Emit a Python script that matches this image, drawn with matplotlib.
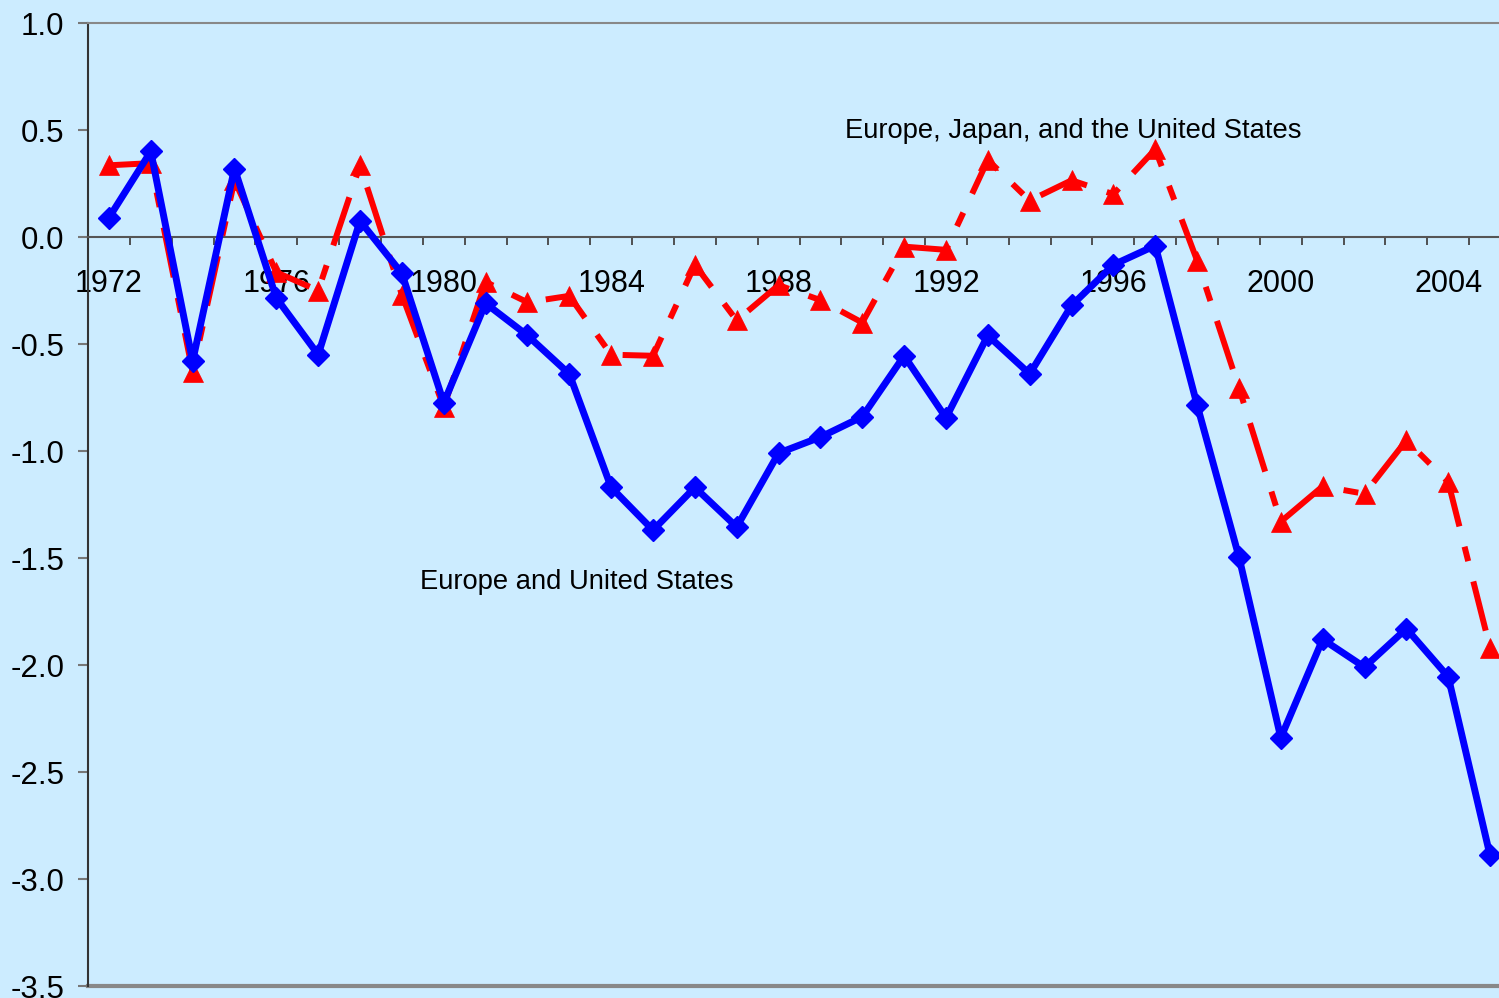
import matplotlib.pyplot as plt
import numpy as np
from matplotlib.ticker import FixedLocator, FixedFormatter

years = list(range(1972, 2006))

# Europe and United States
eu_us = [0.09, 0.40, -0.58, 0.32, -0.285, -0.55, 0.075, -0.17, -0.775, -0.31,
         -0.46, -0.64, -1.17, -1.37, -1.17, -1.355, -1.01, -0.935, -0.84, -0.555,
         -0.845, -0.46, -0.64, -0.32, -0.13, -0.04, -0.785, -1.495, -2.34, -1.88,
         -2.01, -1.83, -2.055, -2.89]

# Europe, Japan, and the United States
eu_jp_us = [0.335, 0.345, -0.63, 0.265, -0.165, -0.25, 0.335, -0.27, -0.795, -0.21,
            -0.305, -0.275, -0.55, -0.555, -0.13, -0.39, -0.225, -0.295, -0.40, -0.045,
            -0.06, 0.36, 0.17, 0.265, 0.20, 0.41, -0.11, -0.705, -1.33, -1.165,
            -1.20, -0.95, -1.145, -1.92]

label_years = [1972, 1976, 1980, 1984, 1988, 1992, 1996, 2000, 2004]
y_ticks = [1.0, 0.5, 0.0, -0.5, -1.0, -1.5, -2.0, -2.5, -3.0, -3.5]

bg = '#CCECFF'
plt.rcParams['font.family'] = ['Liberation Sans', 'DejaVu Sans']

fig = plt.figure(figsize=(14.99, 9.98), dpi=100, facecolor=bg)
ax = fig.add_axes([88 / 1499, 1 - 986 / 998, (1511 - 88) / 1499, (986 - 23) / 998])
ax.set_facecolor(bg)

ax.plot(years, eu_jp_us, color='#FF0000', lw=4.3, linestyle=(0, (8.5, 3.5, 2.5, 3.5)),
        marker='^', ms=14, mew=0.5, zorder=3)
ax.plot(years, eu_us, color='#0000FF', lw=5, marker='D', ms=11.5, mew=1, zorder=4)

ax.set_xlim(1971.5, 2005.5)
ax.set_ylim(-3.5, 1.0)

# x axis sits at zero
ax.spines['bottom'].set_position(('data', 0))
ax.spines['bottom'].set_color('#555555')
ax.spines['bottom'].set_linewidth(1.5)
ax.spines['left'].set_color('#333333')
ax.spines['left'].set_linewidth(1.5)
ax.spines['top'].set_color('#888888')
ax.spines['top'].set_linewidth(1.5)
ax.spines['right'].set_visible(False)
ax.axhline(-3.5, color='#888888', lw=3, clip_on=False, zorder=1)

ax.xaxis.set_major_locator(FixedLocator(label_years))
ax.xaxis.set_major_formatter(FixedFormatter([str(y) for y in label_years]))
ax.xaxis.set_minor_locator(FixedLocator(np.arange(1972.5, 2005.5, 1.0)))
ax.tick_params(axis='x', which='major', length=0, pad=23, labelsize=22)
ax.tick_params(axis='x', which='minor', length=6, width=1.3, color='#444444', direction='out')

ax.set_yticks(y_ticks)
ax.set_yticklabels([f'{v:.1f}' for v in y_ticks])
ax.tick_params(axis='y', length=7, width=1.5, color='#777777', pad=10, labelsize=22.5)

ax.text(1989.58, 0.495, 'Europe, Japan, and the United States', fontsize=19.7,
        va='center', ha='left', zorder=5)
ax.text(1979.44, -1.61, 'Europe and United States', fontsize=19.7,
        va='center', ha='left', zorder=5)

fig.savefig('out.png', dpi=100, facecolor=bg)
